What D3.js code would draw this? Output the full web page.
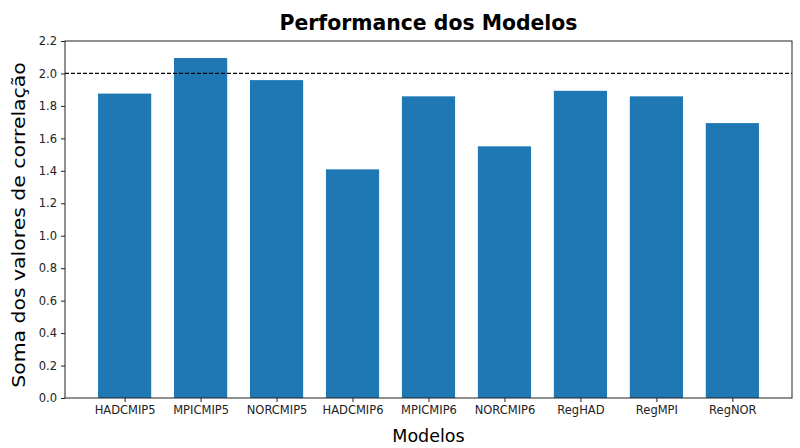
<!DOCTYPE html>
<html><head><meta charset="utf-8">
<script src="https://cdn.jsdelivr.net/npm/d3@7"></script>
<style>body{margin:0;background:#fff;} svg{display:block;font-family:"DejaVu Sans",sans-serif;}</style>
</head><body><svg id="c" width="800" height="448"></svg>
<script>
const categories = ["HADCMIP5","MPICMIP5","NORCMIP5","HADCMIP6","MPICMIP6","NORCMIP6","RegHAD","RegMPI","RegNOR"];
const values = [1.876, 2.095, 1.959, 1.409, 1.859, 1.551, 1.893, 1.859, 1.694];
const yTicks = [0.0,0.2,0.4,0.6,0.8,1.0,1.2,1.4,1.6,1.8,2.0,2.2];
const threshold = 2.0;

const svg = d3.select("#c");
const L=65, R=792, T=41, B=398;
const x = d3.scaleLinear().domain([-0.785, categories.length-1+0.785]).range([L,R]);
const y = d3.scaleLinear().domain([0,2.2]).range([B,T]);
const bw = x(0.7)-x(0);

svg.append("g").selectAll("rect").data(values).join("rect")
  .attr("x",(d,i)=>x(i)-bw/2).attr("y",d=>y(d))
  .attr("width",bw).attr("height",d=>B-y(d))
  .attr("fill","#1f77b4");

svg.append("line").attr("x1",L).attr("x2",R).attr("y1",y(threshold)).attr("y2",y(threshold))
  .attr("stroke","#000").attr("stroke-width",1.2).attr("stroke-dasharray","4,2");

const ya = svg.append("g").attr("transform",`translate(${L},0)`)
  .call(d3.axisLeft(y).tickValues(yTicks).tickFormat(d3.format(".1f")).tickSize(4).tickPadding(4));
const xa = svg.append("g").attr("transform",`translate(0,${B})`)
  .call(d3.axisBottom(x).tickValues(d3.range(categories.length)).tickFormat(i=>categories[i]).tickSize(4).tickPadding(4));
[ya,xa].forEach(a=>{a.select(".domain").remove(); a.selectAll("text").attr("font-size",11.5).attr("fill","#222").attr("font-family","DejaVu Sans, sans-serif"); a.selectAll("line").attr("stroke","#222");});

svg.append("rect").attr("x",L).attr("y",T).attr("width",R-L).attr("height",B-T)
  .attr("fill","none").attr("stroke","#222").attr("stroke-width",1);

svg.append("text").attr("x",(L+R)/2).attr("y",30).attr("text-anchor","middle")
  .attr("font-size",20.4).attr("font-weight","bold").attr("fill","#000").text("Performance dos Modelos");
svg.append("text").attr("x",(L+R)/2).attr("y",442).attr("text-anchor","middle")
  .attr("font-size",17.5).attr("fill","#000").text("Modelos");
svg.append("text").attr("transform",`translate(25,225) rotate(-90) scale(1.2,1)`).attr("text-anchor","middle")
  .attr("font-size",17).attr("fill","#000").text("Soma dos valores de correlação");
</script></body></html>
